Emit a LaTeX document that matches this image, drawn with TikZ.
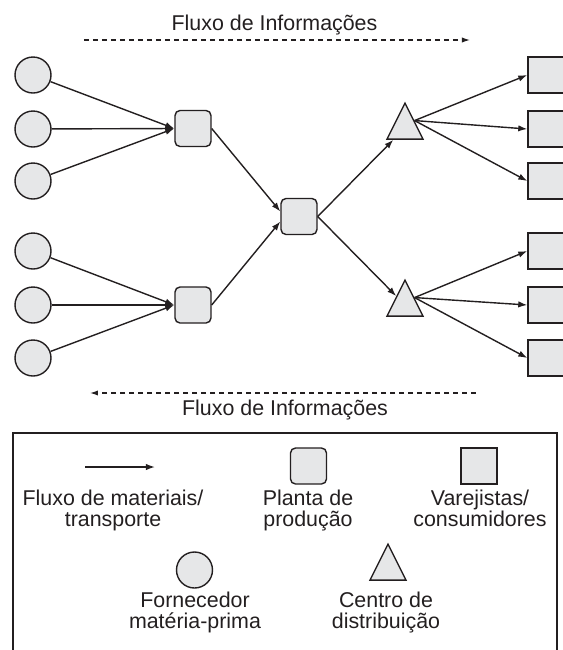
\documentclass[tikz,border=0pt]{standalone}
\usepackage{fontspec}
\setmainfont{Liberation Sans}
\usetikzlibrary{arrows.meta,shapes.geometric}
\definecolor{inkgray}{HTML}{231F20}
\definecolor{shapefill}{HTML}{E6E7E8}

\begin{document}
\begin{tikzpicture}[x=0.5pt,y=-0.5pt,
		every node/.style={font=\fontsize{10.7}{10.5}\selectfont, text=inkgray},
		flow/.style={draw=inkgray, line width=0.7pt, -{Latex[length=4.5pt,width=3.2pt]}},
		info/.style={draw=inkgray, line width=0.6pt, dash pattern=on 2.5pt off 2pt, -{Latex[length=4pt,width=2.6pt]}},
		shapebase/.style={draw=inkgray, fill=shapefill, line width=0.7pt, inner sep=0pt},
		supplier/.style={shapebase, circle, minimum size=18pt},
		plant/.style={shapebase, rectangle, rounded corners=2.5pt, minimum size=18pt},
		retailer/.style={shapebase, rectangle, minimum size=18pt},
		depot/.style={shapebase, isosceles triangle, shape border rotate=90, isosceles triangle stretches, minimum width=18pt, minimum height=18pt},
		legtext/.style={align=center, anchor=base}]
	\useasboundingbox (0,0) rectangle (563,650);

	% Information flow (top)
	\node[anchor=base] (infotop) at (274.5,30) {Fluxo de Informações};
	\coordinate (it1) at (84,40);
	\coordinate (it2) at (470,40);
	\draw[info] (it1) -- (it2);

	% Suppliers, plants, hub, distribution centres, retailers
	\foreach \y [count=\i] in {75,129,181,251,305,358} {
		\node[supplier] (s\i) at (33,\y) {};
		\node[retailer] (r\i) at (546,\y) {};
	}
	\node[plant] (p1) at (193,128.5) {};
	\node[plant] (p2) at (193,305) {};
	\node[plant] (hub) at (299,216.5) {};
	\node[depot] (d1) at (405,128) {};
	\node[depot] (d2) at (405,305) {};

	% Material flow
	\foreach \i in {1,2,3} \draw[flow] (s\i) -- (p1.west);
	\foreach \i in {4,5,6} \draw[flow] (s\i) -- (p2.west);
	\draw[flow] (p1.east) -- (hub.165);
	\draw[flow] (p2.east) -- (hub.195);
	\draw[flow] (hub.east) -- (d1);
	\draw[flow] (hub.east) -- (d2);
	\foreach \i in {1,2,3} \draw[flow] (d1.right side) -- (r\i.west);
	\foreach \i in {4,5,6} \draw[flow] (d2.right side) -- (r\i.west);

	% Information flow (bottom)
	\coordinate (ib1) at (476,393);
	\coordinate (ib2) at (90,393);
	\draw[info] (ib1) -- (ib2);
	\node[anchor=base] (infobot) at (285,415) {Fluxo de Informações};

	% Legend (text nodes sit on the baseline of their last line)
	\draw[inkgray, line width=0.65pt] (13,433) rectangle (557,660);
	\coordinate (la) at (85,467);
	\coordinate (lb) at (155,467);
	\draw[flow] (la) -- (lb);
	\node[legtext] (lflow) at (113,526) {Fluxo de materiais/\\transporte};
	\node[plant] (lplant) at (308.5,466) {};
	\node[legtext] (lplanttxt) at (308,526) {Planta de\\produção};
	\node[retailer] (lret) at (479,466) {};
	\node[legtext] (lrettxt) at (480,526) {Varejistas/\\consumidores};
	\node[supplier] (lsup) at (194.5,570) {};
	\node[legtext] (lsuptxt) at (195,628) {Fornecedor\\matéria-prima};
	\node[depot] (ldep) at (388,569) {};
	\node[legtext] (ldeptxt) at (386,628) {Centro de\\distribuição};
\end{tikzpicture}
\end{document}
